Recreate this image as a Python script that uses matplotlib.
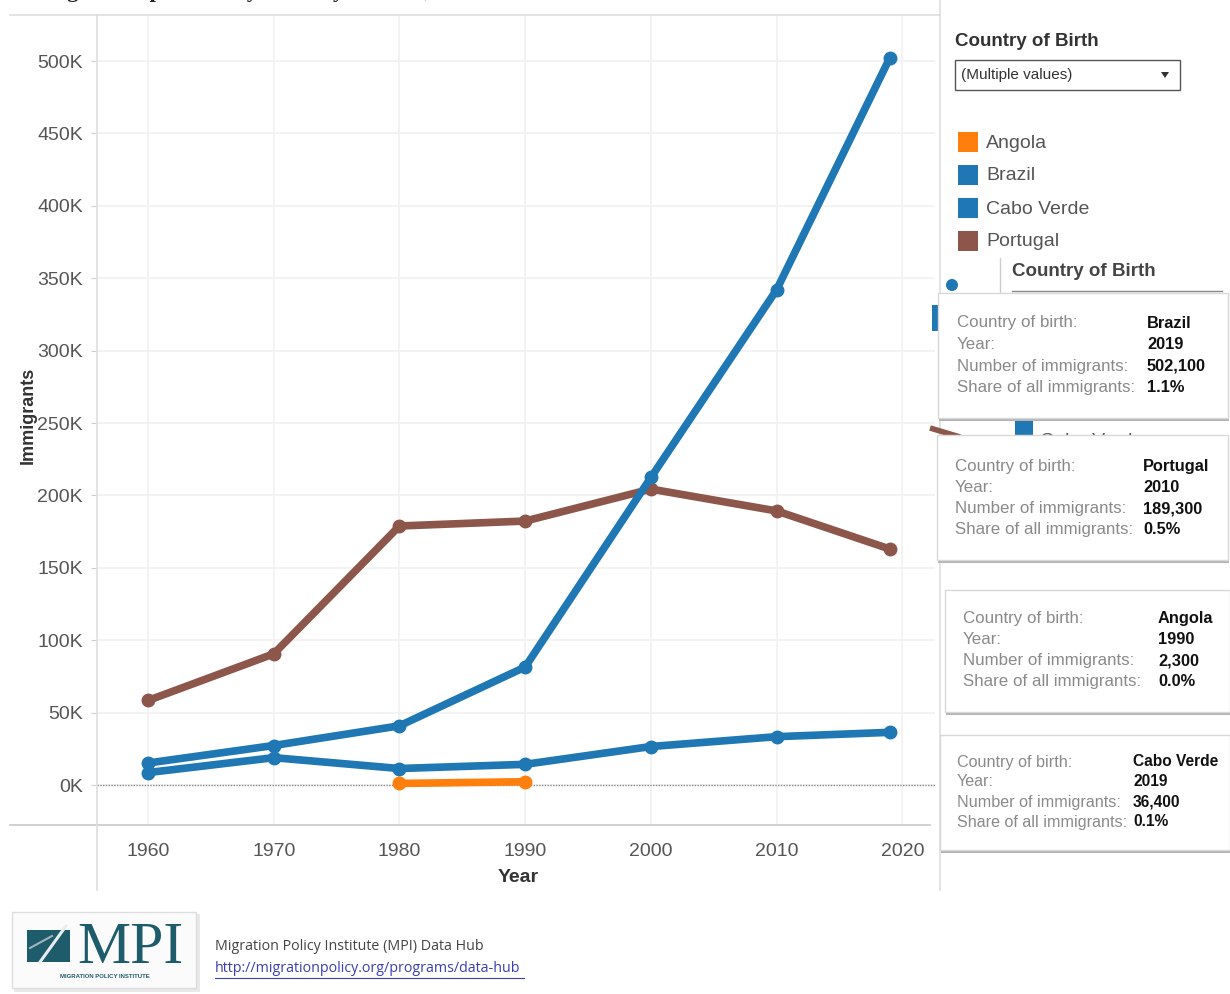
import matplotlib.pyplot as plt
from matplotlib.patches import Rectangle, Circle, Polygon
from matplotlib.ticker import FuncFormatter

years = [1960, 1970, 1980, 1990, 2000, 2010, 2019]
brazil = [15200, 27300, 40900, 81500, 212400, 342000, 502100]
cabo_verde = [8600, 18900, 11400, 14300, 26600, 33400, 36400]
portugal = [58400, 90600, 178900, 182300, 204400, 189300, 163000]
angola_years = [1980, 1990]
angola = [1100, 2300]

countries = ['Angola', 'Brazil', 'Cabo Verde', 'Portugal']
colors = ['#ff7f0e', '#1f77b4', '#1f77b4', '#8c564b']

# hover cards: country, year, immigrants, share
tip_country = ['Brazil', 'Portugal', 'Angola', 'Cabo Verde']
tip_year = [2019, 2010, 1990, 2019]
tip_number = [brazil[6], portugal[5], angola[1], cabo_verde[6]]
tip_share = ['1.1%', '0.5%', '0.0%', '0.1%']

W, H = 1230, 994
NARROW = ['Liberation Sans Narrow', 'Liberation Sans', 'DejaVu Sans']
SANS = ['Liberation Sans', 'DejaVu Sans']

fig = plt.figure(figsize=(W / 100, H / 100), dpi=100)
fig.patch.set_facecolor('white')

# ---- main chart ----
ax = fig.add_axes([97 / W, 1 - 825 / H, (935 - 97) / W, (825 - 15) / H])
ax.set_xlim(1955.94, 2022.6)
ax.set_ylim(-27600, 531800)
for s in ax.spines.values():
    s.set_visible(False)
ax.set_xticks(range(1960, 2021, 10))
ax.set_yticks(range(0, 500001, 50000))
ax.yaxis.set_major_formatter(FuncFormatter(lambda v, p: f'{int(v / 1000)}K'))
ax.grid(color='#f1f1f1', lw=1.2)
ax.set_axisbelow(True)
ax.tick_params(axis='y', length=4, color='#d0d0d0', pad=6, labelcolor='#555')
ax.tick_params(axis='x', length=0, pad=13, labelcolor='#555')
for lab in ax.get_xticklabels() + ax.get_yticklabels():
    lab.set_fontfamily(NARROW)
    lab.set_fontsize(14)
ax.axhline(0, color='#8a8a8a', lw=1, ls=(0, (1, 1)), zorder=1)

lw, ms = 5.5, 9
ax.plot(years, portugal, color=colors[3], lw=lw, marker='o', ms=ms, zorder=3)
ax.plot(years, cabo_verde, color=colors[2], lw=lw, marker='o', ms=ms, zorder=4)
ax.plot(years, brazil, color=colors[1], lw=lw, marker='o', ms=ms, zorder=5)
ax.plot(angola_years, angola, color=colors[0], lw=lw, marker='o', ms=ms, zorder=6)

# ---- overlay in pixel coordinates ----
ov = fig.add_axes([0, 0, 1, 1], zorder=10)
ov.set_xlim(0, W)
ov.set_ylim(H, 0)
ov.axis('off')
ov.patch.set_alpha(0)

# pane borders
ov.plot([10, 940], [15, 15], color='#dedede', lw=1.2)
ov.plot([10, 930], [825, 825], color='#c8c8c8', lw=1.2)
ov.plot([97, 97], [15, 890], color='#dedede', lw=1.2)
ov.plot([940, 940], [0, 890], color='#dedede', lw=1.2)

ov.text(28, 415, 'Immigrants', rotation=90, ha='center', va='center',
        fontsize=13, fontweight='bold', color='#333', family=SANS)
ov.text(518, 877, 'Year', ha='center', va='center',
        fontsize=14, fontweight='bold', color='#333', family=NARROW)

# title, scrolled mostly out of view at the top edge
fig.text(15 / W, 1.0 + 3 / H, 'Immigrant Population by Country of Birth, 1960-2019',
         va='baseline', ha='left', fontsize=16, fontweight='bold',
         color='#222', family=['Liberation Serif', 'DejaVu Serif'])

# ---- filter and colour legend ----
ov.text(955, 41, 'Country of Birth', fontsize=13.5, fontweight='bold',
        color='#333', va='center', family=SANS)
ov.add_patch(Rectangle((955, 60), 225, 30, fc='white', ec='#555', lw=1))
ov.text(961, 75, '(Multiple values)', fontsize=11, color='#333', va='center', family=SANS)
ov.add_patch(Polygon([(1161, 72), (1169, 72), (1165, 78)], closed=True, fc='#333', ec='none'))

for i, (name, c) in enumerate(zip(countries, colors)):
    y = 142 + i * 33
    ov.add_patch(Rectangle((958, y - 10), 20, 20, fc=c, ec='none'))
    ov.text(986, y + 1, name, fontsize=14, color='#555', va='center', family=SANS)

# partly hidden second filter panel
ov.plot([1000, 1000], [258, 300], color='#ccc', lw=1)
ov.text(1012, 272, 'Country of Birth', fontsize=13.5, fontweight='bold',
        color='#444', va='center', family=SANS)
ov.plot([1012, 1222], [291, 291], color='#888', lw=1)
ov.add_patch(Circle((952, 285), 6, fc='#1f77b4', ec='none'))
ov.add_patch(Rectangle((932, 305), 6, 26, fc='#1f77b4', ec='none'))
ov.add_patch(Rectangle((1015, 420), 18, 20, fc='#1f77b4', ec='none'))
ov.text(1040, 446, 'Cabo Verde', fontsize=14, color='#555', va='baseline', family=SANS)
ov.plot([930, 960], [428, 437], color='#8c564b', lw=4, solid_capstyle='butt')

# ---- hover cards ----
boxes = [(938, 293, 1228, 418, 957, 1147, 323, 21.5, 12.2),
         (937, 435, 1228, 560, 955, 1143, 466, 21.3, 12.2),
         (945, 590, 1230, 712, 963, 1158, 618, 21.3, 12.2),
         (940, 735, 1230, 850, 957, 1133, 762, 20.0, 11.6)]
labels = ['Country of birth:', 'Year:', 'Number of immigrants:', 'Share of all immigrants:']
for k, (x0, y0, x1, y1, lx, vx, ty, dy, fs) in enumerate(boxes):
    z = 20 + k * 2
    ov.add_patch(Rectangle((x0 + 1, y0 + 3), x1 - x0, y1 - y0, fc='#b5b5b5', ec='none', zorder=z))
    ov.add_patch(Rectangle((x0, y0), x1 - x0, y1 - y0, fc='white', ec='#d8d8d8', lw=1, zorder=z))
    vals = [tip_country[k], str(tip_year[k]), f'{tip_number[k]:,}', tip_share[k]]
    for j in range(4):
        yy = ty + j * dy
        ov.text(lx, yy, labels[j], fontsize=fs, color='#8a8a8a', va='center',
                family=SANS, zorder=z + 1)
        ov.text(vx, yy, vals[j], fontsize=fs - 0.4, color='#111',
                fontweight='bold', va='center', family=NARROW, zorder=z + 1)

# ---- footer ----
ov.add_patch(Rectangle((14, 914), 186, 78, fc='#e9e9e9', ec='none'))
ov.add_patch(Rectangle((12, 912), 184, 76, fc='#fbfbfb', ec='#dddddd', lw=1))
teal = '#1e5c6b'
ov.add_patch(Polygon([(27, 930), (70, 930), (70, 962), (27, 962)], fc=teal, ec='none'))
ov.plot([40, 66], [962, 926], color='#e8eef0', lw=2.2)
ov.plot([30, 52], [948, 936], color='#9fb5bb', lw=1.5)
ov.text(130, 963, 'MPI', fontsize=43, color=teal, ha='center', va='baseline',
        family=['Liberation Serif', 'DejaVu Serif'])
ov.text(105, 977, 'MIGRATION POLICY INSTITUTE', fontsize=4.3, color=teal,
        fontweight='bold', ha='center', va='center', family=SANS)

ov.text(215, 946, 'Migration Policy Institute (MPI) Data Hub', fontsize=10.3,
        color='#444', va='center', family=['Open Sans', 'DejaVu Sans'])
ov.text(215, 969, 'http://migrationpolicy.org/programs/data-hub', fontsize=10.3,
        color='#3a3fb0', va='center', family=['Open Sans', 'DejaVu Sans'])
ov.plot([215, 524], [978, 978], color='#3a3fb0', lw=0.8)

fig.savefig('out.png', dpi=100, facecolor='white')
